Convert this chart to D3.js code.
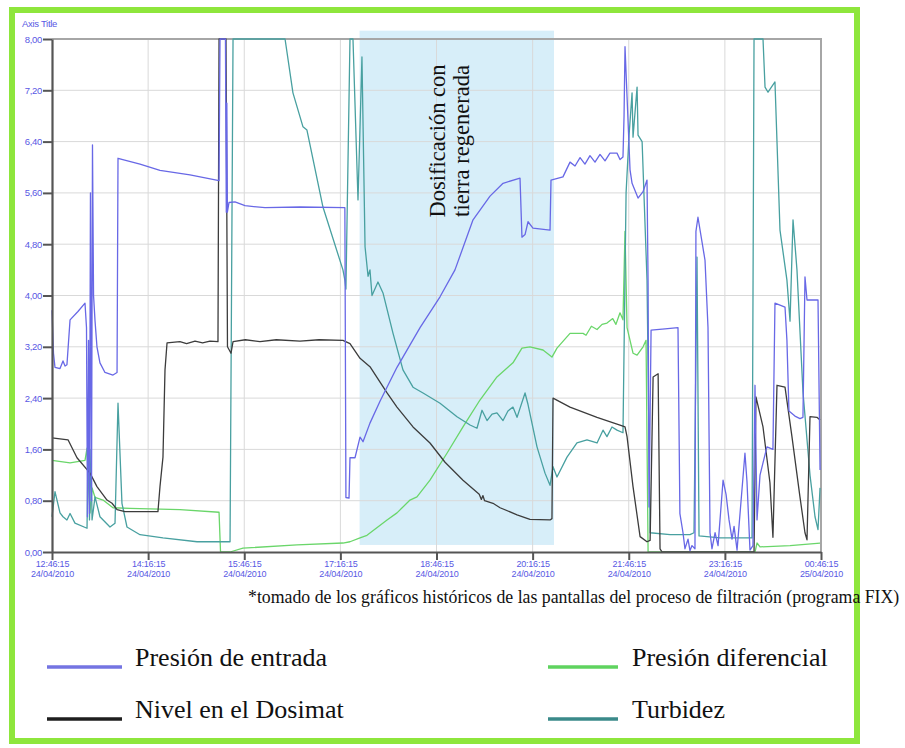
<!DOCTYPE html>
<html>
<head>
<meta charset="utf-8">
<script src="https://cdn.jsdelivr.net/npm/d3@7"></script>
<style>
  html, body { margin: 0; padding: 0; background: #ffffff; }
  svg { display: block; }
</style>
</head>
<body>
<svg id="chart" width="905" height="748"></svg>
<script>
// ---- Data: time in minutes after 24/04/2010 12:46:15, value on the shared axis ----
const START = new Date(2010, 3, 24, 12, 46, 15);
const SPAN_MINUTES = 720;
const xTickMinutes = [0, 90, 180, 270, 360, 450, 540, 630, 720];
const yTicks = [0, 0.8, 1.6, 2.4, 3.2, 4.0, 4.8, 5.6, 6.4, 7.2, 8.0];
const axisTitle = "Axis Title";

// Dosing period with regenerated earth (minutes) and its vertical extent (axis units)
const dosingWindow = [288, 470];
const dosingExtent = [0.11, 8.13];
const dosingLabel = ["Dosificación con", "tierra regenerada"];

const footnote = "*tomado de los gráficos históricos de las pantallas del proceso de filtración (programa FIX)";

const presionEntrada = [
  [0,3.77],[1.4,3.1],[2.8,2.88],[7.5,2.86],[10.3,2.98],[12.2,2.9],[14.0,2.92],[16.9,3.62],[24.3,3.75],[30.9,3.88],
  [32.3,3.5],[33.2,0.55],[34.2,3.3],[35.1,0.6],[36.0,5.6],[37.0,0.8],[37.9,6.35],[38.9,4.0],[40.3,3.6],[42.1,3.2],
  [44.9,2.95],[49.6,2.8],[57.1,2.76],[60.9,2.8],[61.8,6.14],[82.4,6.05],[101.1,5.95],[129.2,5.88],[156.4,5.79],
  [157.3,8.0],[162.4,8.0],[163.2,5.3],[163.7,7.0],[164.2,5.3],[165.7,5.45],[171.3,5.46],[180.7,5.4],[199.4,5.37],
  [232.2,5.38],[274.2,5.37],[275.2,0.85],[278.1,0.84],[279.0,1.47],[283.7,1.47],[288.4,1.79],[291.2,1.72],[297.7,2.01],
  [307.1,2.35],[323.0,2.88],[344.6,3.5],[363.3,3.98],[377.3,4.4],[394.2,5.18],[410.1,5.55],[422.3,5.75],[438.2,5.83],
  [440.0,4.91],[442.9,4.95],[445.7,5.15],[450.3,5.05],[466.3,5.02],[467.2,5.8],[478.4,5.85],[485.0,6.08],[489.7,6.02],
  [494.4,6.15],[499.0,6.05],[503.7,6.18],[508.4,6.08],[513.1,6.2],[517.8,6.1],[522.4,6.22],[529.0,6.22],[531.8,6.12],
  [534.6,6.16],[535.6,6.8],[536.5,7.88],[538.4,7.1],[541.2,5.96],[543.1,5.75],[548.7,5.52],[553.4,5.62],[557.1,5.8],
  [558.1,4.2],[559.0,0.7],[560.9,3.46],[574.0,3.48],[586.1,3.5],[587.9,0.6],[590.8,0.3],[592.6,0.05],[595.5,0.2],
  [597.3,0.02],[599.2,0.1],[602.0,0.05],[602.9,5.0],[604.8,5.22],[611.4,4.55],[614.2,3.5],[616.1,0.3],[617.9,0.05],
  [620.8,0.3],[623.6,0.1],[628.3,1.12],[631.1,0.9],[633.9,0.5],[636.7,0.2],[638.6,0.4],[641.4,0.03],[648.8,1.54],
  [650.7,1.1],[653.5,0.03],[656.3,0.1],[658.2,2.6],[660.1,0.5],[662.9,1.2],[665.7,1.39],[669.4,1.64],[675.0,1.6],
  [676.9,3.88],[686.3,3.82],[688.1,3.3],[690.0,2.2],[695.6,2.12],[700.3,2.08],[703.1,2.1],[705.0,4.29],[706.9,3.93],
  [717.2,3.93],[719.1,1.28]
];

const nivelDosimat = [
  [0,1.78],[15.0,1.75],[23.4,1.47],[35.6,1.23],[42.1,1.02],[51.5,0.81],[56.2,0.76],[60.9,0.66],[68.3,0.63],[99.2,0.63],
  [101.1,1.02],[103.9,1.48],[105.8,2.84],[107.7,3.26],[119.8,3.28],[126,3.25],[133.9,3.29],[141,3.26],[147.9,3.29],
  [155.4,3.28],[156.4,8.0],[162.9,8.0],[164.3,3.2],[167.6,3.1],[169.5,3.28],[181,3.31],[194.7,3.28],[210,3.31],
  [232.2,3.29],[250,3.31],[272.4,3.3],[279.0,3.25],[288.4,3.02],[297.7,2.89],[313.7,2.48],[323.0,2.26],[338.0,1.95],
  [353.9,1.70],[368.0,1.40],[384.8,1.12],[400,0.9],[402,0.82],[403.5,0.88],[405,0.8],[412.9,0.76],[419.5,0.69],
  [435.4,0.58],[447.5,0.51],[466.3,0.5],[468.1,0.52],[469.1,2.40],[485.0,2.26],[510.3,2.1],[531.8,1.98],[536.5,1.95],
  [538.4,1.80],[544.0,1.02],[550.6,0.24],[557.1,0.16],[560.0,0.18],[562.8,2.73],[567.5,2.78],[569.3,0.05],[571.2,0.0],
  [657.3,0.0],[659.1,2.42],[665.7,1.95],[672.2,1.08],[675.0,0.23],[678.8,2.60],[686.3,2.57],[692.8,1.8],[700.3,0.86],
  [705.0,0.3],[706.9,0.19],[709.7,2.11],[716.2,2.1],[719.1,2.06]
];

const presionDiferencial = [
  [0,1.43],[16.9,1.39],[30.9,1.43],[32.8,1.62],[33.7,1.2],[35.6,0.61],[37.5,1.0],[40.3,0.85],[47.8,0.81],[57.1,0.69],
  [73.0,0.68],[119.8,0.66],[156.4,0.62],[157.8,0.0],[166.7,0.0],[178.8,0.06],[229.4,0.11],[272.4,0.14],[279.0,0.16],
  [288.4,0.22],[294.9,0.26],[313.7,0.5],[323.0,0.61],[335.2,0.81],[341.7,0.86],[353.9,1.12],[369.8,1.54],[384.8,1.95],
  [400.7,2.37],[416.6,2.73],[431.6,2.95],[440.0,3.18],[447.5,3.2],[459.7,3.15],[468.1,3.04],[472.8,3.18],[485.0,3.41],
  [497.2,3.41],[500,3.38],[505,3.52],[510.3,3.47],[515,3.55],[519.6,3.57],[525,3.64],[528,3.55],[531.8,3.73],
  [534.6,3.62],[536.5,5.0],[538.4,3.5],[541.2,3.3],[544.0,3.1],[547.8,3.07],[553.4,3.2],[556.2,3.3],[558.1,0.0],
  [658.2,0.0],[660.1,0.14],[662.9,0.08],[691.0,0.1],[719.1,0.14]
];

const turbidez = [
  [0,0.55],[2.8,0.94],[7.5,0.61],[10.3,0.55],[14.0,0.5],[16.9,0.6],[21.5,0.45],[32.8,0.37],[34.2,2.3],[35.1,0.5],
  [36.5,1.6],[37.5,0.5],[40.3,0.86],[44.9,0.55],[54.3,0.39],[59.0,0.45],[61.8,2.32],[65.5,0.76],[70.2,0.39],[82.4,0.27],
  [103.9,0.22],[135.8,0.16],[166.7,0.16],[169.5,8.0],[218.2,8.0],[225.6,7.16],[235.0,6.63],[238.7,6.58],[253.7,5.38],
  [272.4,4.4],[274.2,4.24],[275.2,4.1],[279.0,8.0],[281.8,8.0],[286.5,5.49],[290.2,7.72],[293.1,4.76],[295.9,4.3],
  [297.7,4.4],[299.6,4.0],[305.2,4.21],[309.9,4.04],[319.3,3.41],[328.6,2.84],[338.0,2.57],[347.4,2.48],[363.3,2.32],
  [379.2,2.11],[391.4,1.98],[397.9,1.93],[402.6,2.21],[407.3,2.05],[412.0,2.15],[416.6,2.17],[422.3,2.05],[426.9,2.2],
  [431.6,2.26],[435.4,2.1],[442.9,2.48],[445.7,2.3],[454.1,1.64],[461.6,1.23],[466.3,1.04],[469.1,1.33],[472.8,1.17],
  [482.2,1.48],[491.5,1.70],[500.9,1.75],[510.3,1.70],[515.9,1.90],[519.6,1.8],[524.3,1.95],[529.0,1.9],[534.6,1.86],
  [537.5,5.6],[540.3,6.5],[543.1,7.16],[544.0,6.47],[547.8,7.25],[548.7,6.5],[552.5,6.4],[557.1,4.24],[560.0,0.3],
  [578.7,0.27],[597.3,0.27],[601.1,0.3],[603.9,4.6],[605.8,0.25],[625.4,0.22],[644.2,0.22],[655.4,0.22],[657.3,8.0],
  [665.7,8.0],[667.6,7.25],[670.4,7.17],[676.9,7.33],[681.6,5.02],[688.1,4.24],[691.0,3.6],[693.8,5.18],[697.5,4.4],
  [703.1,2.5],[709.7,1.2],[714.4,0.55],[717.2,0.35],[719.1,1.0]
];

const seriesNames = ["Presión de entrada", "Presión diferencial", "Nivel en el Dosimat", "Turbidez"];
const seriesValues = [presionEntrada, presionDiferencial, nivelDosimat, turbidez];
const seriesColors = ["#6868e6", "#6ad66a", "#3c3c3c", "#48a0a0"];
const legendColors = ["#7474e2", "#5fd35f", "#1e1e1e", "#3a8a8a"];
const drawOrder = [1, 3, 2, 0];

// ---- Layout ----
const svg = d3.select("#chart");
const plot = { left: 52, right: 821, top: 39, bottom: 552 };
const axisColor = "#5858e4";
const sans = "Liberation Sans, Arial, sans-serif";
const serif = "Liberation Serif, Times New Roman, serif";

const toDate = m => new Date(+START + m * 60000);
const x = d3.scaleTime()
  .domain([START, toDate(SPAN_MINUTES)])
  .range([plot.left, plot.right]);
const y = d3.scaleLinear().domain([0, 8]).range([plot.bottom, plot.top]);

const locale = d3.formatLocale({ decimal: ",", thousands: ".", grouping: [3], currency: ["", "€"] });
const fmtY = locale.format(".2f");
const fmtClock = d3.timeFormat("%H:%M:%S");
const fmtDay = d3.timeFormat("%d/%m/%Y");

// Outer lime frame
svg.append("rect")
  .attr("x", 12).attr("y", 10).attr("width", 845).attr("height", 731)
  .attr("fill", "none").attr("stroke", "#8ee63c").attr("stroke-width", 6);

// Dosing window band
svg.append("rect")
  .attr("x", x(toDate(dosingWindow[0])))
  .attr("y", y(dosingExtent[1]))
  .attr("width", x(toDate(dosingWindow[1])) - x(toDate(dosingWindow[0])))
  .attr("height", y(dosingExtent[0]) - y(dosingExtent[1]))
  .attr("fill", "#d7eef9");

// Grid
const grid = svg.append("g");
grid.selectAll(".hg").data(yTicks.filter(v => v > 0 && v < 8)).join("line")
  .attr("x1", plot.left).attr("x2", plot.right)
  .attr("y1", d => y(d)).attr("y2", d => y(d))
  .attr("stroke", "#d9d9d9").attr("stroke-width", 1);
grid.selectAll(".vg").data(xTickMinutes.filter(m => m > 0 && m < SPAN_MINUTES)).join("line")
  .attr("x1", d => x(toDate(d))).attr("x2", d => x(toDate(d)))
  .attr("y1", plot.top).attr("y2", plot.bottom)
  .attr("stroke", "#d9d9d9").attr("stroke-width", 1);

// Plot frame (top and right)
svg.append("path")
  .attr("d", `M${plot.left},${plot.top}H${plot.right}V${plot.bottom}`)
  .attr("fill", "none").attr("stroke", "#a6a6a6").attr("stroke-width", 2);

// Series
const line = d3.line()
  .x(d => x(toDate(d[0])))
  .y(d => y(d[1]));
const linesG = svg.append("g");
drawOrder.forEach(i => {
  linesG.append("path")
    .datum(seriesValues[i])
    .attr("d", line)
    .attr("fill", "none")
    .attr("stroke", seriesColors[i])
    .attr("stroke-width", 1.3)
    .attr("stroke-linejoin", "round");
});

// Y axis
const yAxis = svg.append("g")
  .attr("transform", `translate(${plot.left},0)`)
  .call(d3.axisLeft(y).tickValues(yTicks).tickFormat(fmtY).tickSize(9).tickSizeOuter(0).tickPadding(1));
yAxis.select(".domain").attr("stroke", "#555").attr("stroke-width", 2.2);
yAxis.selectAll(".tick line").attr("stroke", "#555").attr("stroke-width", 2);
yAxis.selectAll(".tick text")
  .attr("fill", axisColor).attr("font-family", sans)
  .attr("font-size", 9.5).attr("letter-spacing", -0.3);

// X axis: clock time above, date below
const xAxis = svg.append("g")
  .attr("transform", `translate(0,${plot.bottom})`)
  .call(d3.axisBottom(x).tickValues(xTickMinutes.map(toDate)).tickSize(8).tickSizeOuter(0).tickFormat(""));
xAxis.select(".domain").attr("stroke", "#555").attr("stroke-width", 2.2);
xAxis.selectAll(".tick line").attr("stroke", "#555").attr("stroke-width", 2);
xAxis.selectAll(".tick text").remove();
xAxis.selectAll(".tick").each(function(d) {
  const g = d3.select(this);
  [[fmtClock(d), 15], [fmtDay(d), 25]].forEach(([s, ty]) => {
    g.append("text")
      .attr("x", 0).attr("y", ty)
      .attr("text-anchor", "middle")
      .attr("fill", axisColor).attr("font-family", sans)
      .attr("font-size", 9).attr("letter-spacing", -0.2)
      .text(s);
  });
});

// Axis title
svg.append("text")
  .attr("x", 22).attr("y", 27)
  .attr("fill", axisColor).attr("font-family", sans)
  .attr("font-size", 9.5).attr("letter-spacing", -0.3)
  .text(axisTitle);

// Dosing window label (vertical)
const note = svg.append("text")
  .attr("transform", "translate(445,141) rotate(-90)")
  .attr("text-anchor", "middle")
  .attr("font-family", serif)
  .attr("font-size", 22.5).attr("fill", "#111");
dosingLabel.forEach((s, i) => note.append("tspan").attr("x", 0).attr("y", i * 24).text(s));

// Footnote
svg.append("text")
  .attr("x", 248).attr("y", 603)
  .attr("font-family", serif)
  .attr("font-size", 17.8).attr("fill", "#111")
  .text(footnote);

// Legend (two columns, two rows)
const legendPos = [[47, 666], [548, 666], [47, 718], [548, 718]];
const legend = svg.append("g");
seriesNames.forEach((name, i) => {
  const [lx, ly] = legendPos[i];
  const left = i % 2 === 0;
  const g = legend.append("g").attr("transform", `translate(${lx},${ly})`);
  g.append("line").attr("x1", 0).attr("x2", left ? 75 : 70)
    .attr("y1", 1).attr("y2", 1)
    .attr("stroke", legendColors[i]).attr("stroke-width", 3.5);
  g.append("text")
    .attr("x", left ? 88 : 84).attr("y", 0)
    .attr("font-family", serif)
    .attr("font-size", 26).attr("fill", "#111")
    .text(name);
});
</script>
</body>
</html>
